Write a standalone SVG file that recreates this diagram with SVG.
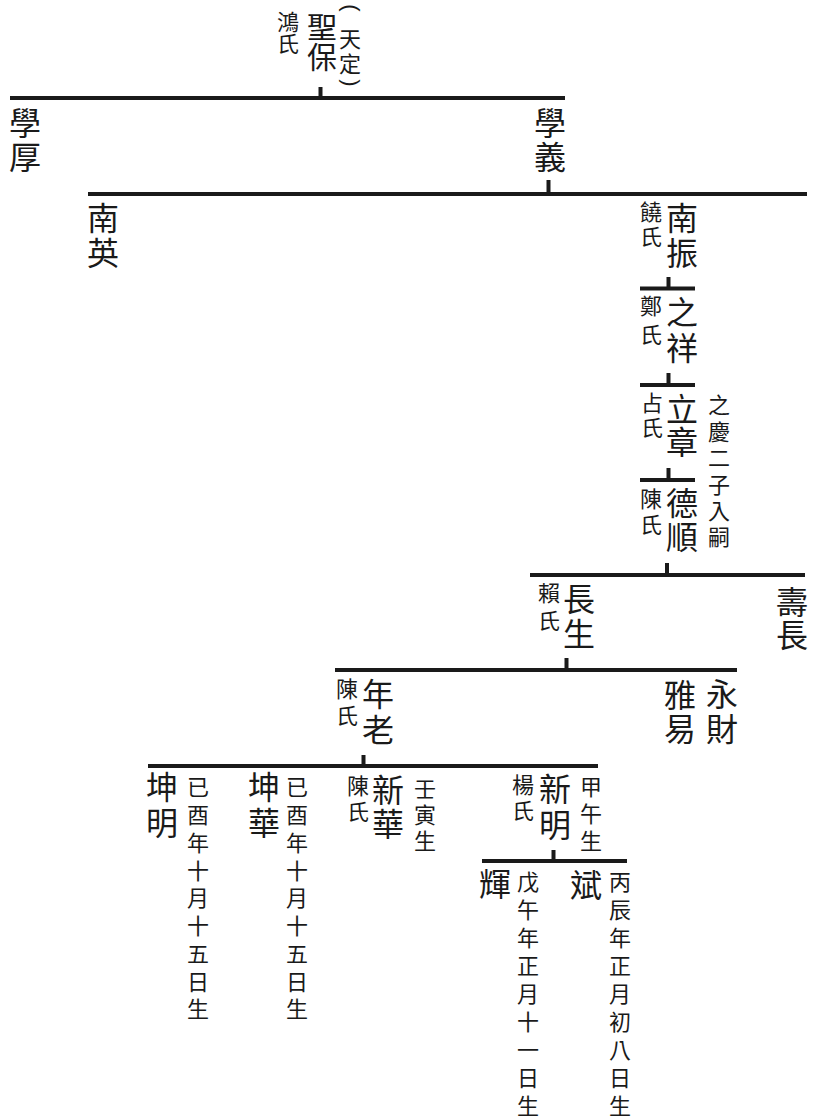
<svg xmlns="http://www.w3.org/2000/svg" width="825" height="1120" viewBox="0 0 825 1120">
<style>
text{font-family:"Noto Sans CJK TC","Noto Sans CJK SC",sans-serif;fill:#1a1a1a}
.v{writing-mode:vertical-rl;text-anchor:start}
.L{font-size:32px}
.T{font-size:30px}
.S{font-size:22px}
.p{font-family:"Liberation Sans",sans-serif;font-size:22px;text-anchor:middle}
.ln{stroke:#1a1a1a;stroke-width:4;fill:none}
</style>
<rect width="825" height="1120" fill="#fff"/>
<g id="connectors">
<path class="ln" d="M320.5 87V98M10 98H565"/>
<path class="ln" d="M548.5 180V194M88 194H807"/>
<path class="ln" d="M668.5 277V288.5M640 288.5H695"/>
<path class="ln" d="M668.5 373V385M640 385H695"/>
<path class="ln" d="M668.5 468V480M640 480H695"/>
<path class="ln" d="M667 563V575M530 575H805"/>
<path class="ln" d="M566.5 658V670M335 670H737"/>
<path class="ln" d="M363.5 755V766M148 766H598"/>
<path class="ln" d="M553.5 850V861M482 861H627"/>
</g>
<g id="n-shengbao">
<text class="v S" x="288" y="11">鴻氏</text>
<text class="v T" x="322" y="12">聖保</text>
<text class="p" x="350" y="13.7" transform="rotate(90 350 8)">(</text>
<text class="v S" x="350" y="28" letter-spacing="3">天定</text>
<text class="p" x="350" y="88.7" transform="rotate(90 350 83)">)</text>
</g>
<g id="n-xuehou"><text class="v L" x="25" y="107" letter-spacing="2">學厚</text></g>
<g id="n-xueyi"><text class="v L" x="550" y="107" letter-spacing="2">學義</text></g>
<g id="n-nanying"><text class="v L" x="103" y="202" letter-spacing="3">南英</text></g>
<g id="n-nanzhen">
<text class="v S" x="651" y="201" letter-spacing="3">饒氏</text>
<text class="v L" x="682" y="202" letter-spacing="3">南振</text>
</g>
<g id="n-zhixiang">
<text class="v S" x="651" y="295" letter-spacing="7">鄭氏</text>
<text class="v L" x="682" y="296" letter-spacing="4">之祥</text>
</g>
<g id="n-lizhang">
<text class="v S" x="652" y="392" letter-spacing="3">占氏</text>
<text class="v L" x="682" y="393" letter-spacing="1">立章</text>
<text class="v S" x="719" y="394" letter-spacing="4.4">之慶二子入嗣</text>
</g>
<g id="n-deshun">
<text class="v S" x="651" y="488" letter-spacing="4">陳氏</text>
<text class="v L" x="682" y="487" letter-spacing="2">德順</text>
</g>
<g id="n-changsheng">
<text class="v S" x="549" y="582" letter-spacing="6">賴氏</text>
<text class="v L" x="579" y="583" letter-spacing="3">長生</text>
</g>
<g id="n-shouchang"><text class="v L" x="792" y="586" letter-spacing="1">壽長</text></g>
<g id="n-nianlao">
<text class="v S" x="347" y="678" letter-spacing="5">陳氏</text>
<text class="v L" x="378" y="678" letter-spacing="4">年老</text>
</g>
<g id="n-yayi"><text class="v L" x="680" y="679" letter-spacing="2">雅易</text></g>
<g id="n-yongcai"><text class="v L" x="722" y="678" letter-spacing="3">永財</text></g>
<g id="n-kunming">
<text class="v L" x="162" y="771" letter-spacing="4">坤明</text>
<text class="v S" x="198" y="776" letter-spacing="5.75">已酉年十月十五日生</text>
</g>
<g id="n-kunhua">
<text class="v L" x="264" y="771" letter-spacing="4">坤華</text>
<text class="v S" x="297" y="776" letter-spacing="5.75">已酉年十月十五日生</text>
</g>
<g id="n-xinhua">
<text class="v S" x="358" y="775" letter-spacing="4">陳氏</text>
<text class="v L" x="388" y="774" letter-spacing="2">新華</text>
<text class="v S" x="425" y="778" letter-spacing="4">壬寅生</text>
</g>
<g id="n-xinming">
<text class="v S" x="523" y="774" letter-spacing="4">楊氏</text>
<text class="v L" x="555" y="773" letter-spacing="4">新明</text>
<text class="v S" x="591" y="776" letter-spacing="5">甲午生</text>
</g>
<g id="n-hui">
<text class="v L" x="495" y="868">輝</text>
<text class="v S" x="528" y="871" letter-spacing="5.9">戊午年正月十一日生</text>
</g>
<g id="n-bin">
<text class="v L" x="586" y="869">斌</text>
<text class="v S" x="620" y="871" letter-spacing="5.9">丙辰年正月初八日生</text>
</g>
</svg>
